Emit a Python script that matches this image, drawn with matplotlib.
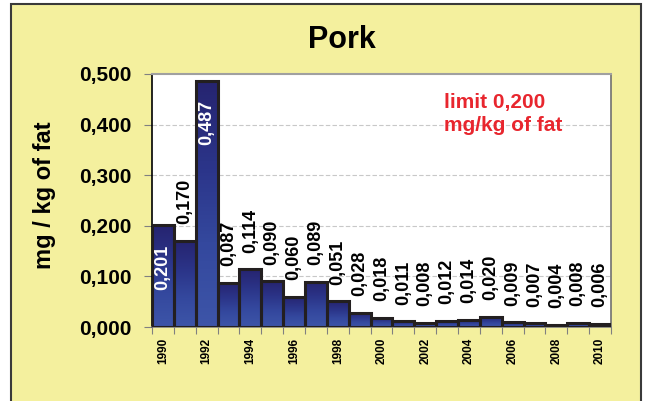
import numpy as np
import matplotlib
matplotlib.use('Agg')
from matplotlib import pyplot as plt
from matplotlib.patches import Rectangle
from matplotlib.colors import LinearSegmentedColormap

years = list(range(1990, 2011))
values = [0.201, 0.170, 0.487, 0.087, 0.114, 0.090, 0.060, 0.089, 0.051,
          0.028, 0.018, 0.011, 0.008, 0.012, 0.014, 0.020, 0.009, 0.007,
          0.004, 0.008, 0.006]
inside_years = [1990, 1992]
title = 'Pork'
ylabel = 'mg / kg of fat'
note = 'limit 0,200\nmg/kg of fat'

plt.rcParams['font.family'] = ['Liberation Sans', 'DejaVu Sans']
plt.rcParams['font.weight'] = 'bold'

W, H = 646, 401
fig = plt.figure(figsize=(W / 100., H / 100.), dpi=100)
fig.patch.set_facecolor('white')

# yellow panel with border
fig.patches.append(Rectangle(
    (11. / W, -0.05), (641. - 11.) / W, (H - 4.) / H + 0.05,
    transform=fig.transFigure, facecolor='#f4f09e',
    edgecolor='#3a3a3a', linewidth=1.5, zorder=-10))

ax = fig.add_axes([152. / W, 1 - 327. / H, (611. - 152.) / W, (327. - 74.) / H])
ax.set_facecolor('white')

cmap = LinearSegmentedColormap.from_list(
    'bar', ['#3d55a8', '#34489e', '#2b3488', '#262470'])
grad = np.linspace(0, 1, 64).reshape(-1, 1)

x = np.arange(len(years))
bars = ax.bar(x, values, width=1.0, facecolor='none',
              edgecolor='#231f20', linewidth=2.2, zorder=3)
for b, v in zip(bars, values):
    x0 = b.get_x()
    im = ax.imshow(grad, cmap=cmap, aspect='auto', origin='lower',
                   extent=(x0, x0 + b.get_width(), 0, v), zorder=2)
    im.set_clip_path(b)

for xi, yr, v in zip(x, years, values):
    lab = ('%.3f' % v).replace('.', ',')
    if yr in inside_years:
        ax.annotate(lab, (xi, v), xytext=(0, -14), textcoords='offset points',
                    rotation=90, ha='center', va='top', color='white',
                    fontsize=13, fontweight='bold', zorder=5)
    else:
        ax.annotate(lab, (xi, v), xytext=(0, 12), textcoords='offset points',
                    rotation=90, ha='center', va='bottom', color='black',
                    fontsize=13, fontweight='bold', zorder=5)

ax.set_xlim(-0.5, len(years) - 0.5)
ax.set_ylim(0, 0.5)

yt = np.arange(0, 0.51, 0.1)
ax.set_yticks(yt)
ax.set_yticklabels([('%.3f' % t).replace('.', ',') for t in yt],
                   fontsize=15, fontweight='bold')
ax.tick_params(axis='y', direction='out', length=6, color='#808080', pad=9)

ax.set_xticks(np.arange(len(years) + 1) - 0.5)
ax.set_xticklabels([])
ax.tick_params(axis='x', which='major', direction='out', length=5,
               color='#808080')
ax.set_xticks(x[::2], minor=True)
ax.set_xticklabels([str(y) for y in years[::2]], minor=True, rotation=90,
                   fontsize=8.5, fontweight='bold')
ax.tick_params(axis='x', which='minor', length=0, pad=8)

for t in yt[1:-1]:
    ax.axhline(t, color='#c8c8c8', linestyle=(0, (4, 2)), linewidth=0.8,
               zorder=1)

ax.spines['left'].set_color('#000000')
ax.spines['left'].set_linewidth(1.2)
ax.spines['top'].set_color('#a0a0a0')
ax.spines['top'].set_linewidth(1.5)
ax.spines['right'].set_color('#707070')
ax.spines['right'].set_linewidth(1.2)
ax.spines['bottom'].set_color('#808080')
ax.spines['bottom'].set_linewidth(1.2)

fig.text(342. / W, 1 - 40. / H, title, ha='center', va='center',
         fontsize=22, fontweight='bold')
fig.text(45. / W, 1 - 195. / H, ylabel, ha='center', va='center',
         rotation=90, fontsize=17, fontweight='bold')
fig.text(444. / W, 1 - 114. / H, note, ha='left', va='center',
         fontsize=15, fontweight='bold', color='#e8262e', linespacing=1.25)

fig.savefig('out.png', dpi=100)
